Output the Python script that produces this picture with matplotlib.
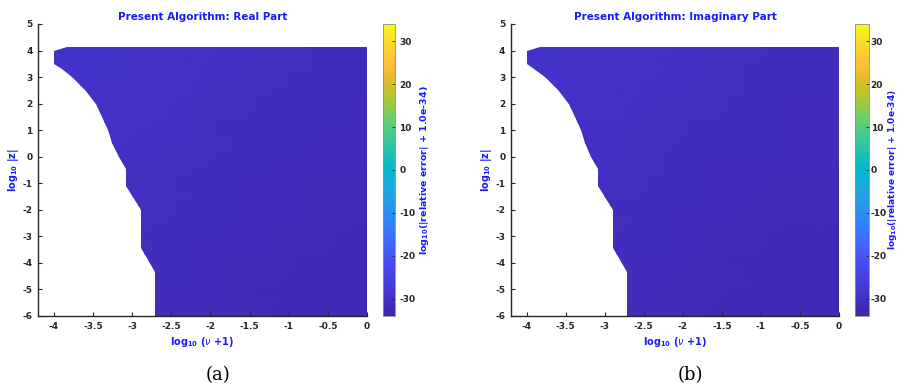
"""
Relative error maps of the present algorithm (real and imaginary parts),
drawn as two masked colour maps with MATLAB-style parula colourbars.
"""

import numpy as np
import matplotlib
matplotlib.use("Agg")
import matplotlib.pyplot as plt
from matplotlib.colors import LinearSegmentedColormap
from matplotlib.patches import Polygon

# grid nodes of the error table
x_nodes = [-4.0, -3.5, -3.0, -2.5, -2.0, -1.5, -1.0, -0.5, 0.0]
y_nodes = [-6.0, -5.0, -4.0, -3.0, -2.0, -1.0, 0.0, 1.0, 2.0, 3.0, 4.13]

# log10(|relative error| + 1e-34), rows bottom -> top
err_real = [
    [-31.3, -31.3, -31.3, -31.5, -31.7, -31.8, -31.9, -32.0, -32.0],
    [-31.2, -31.2, -31.2, -31.4, -31.6, -31.8, -31.9, -31.9, -32.0],
    [-31.0, -31.0, -31.0, -31.3, -31.5, -31.7, -31.8, -31.9, -31.9],
    [-30.9, -30.9, -30.9, -31.2, -31.4, -31.6, -31.7, -31.8, -31.9],
    [-30.8, -30.8, -30.8, -31.0, -31.3, -31.5, -31.6, -31.8, -31.8],
    [-30.6, -30.6, -30.6, -30.9, -31.2, -31.4, -31.6, -31.7, -31.7],
    [-30.4, -30.4, -30.4, -30.7, -31.0, -31.3, -31.5, -31.6, -31.6],
    [-30.2, -30.2, -30.2, -30.5, -30.9, -31.1, -31.2, -31.4, -31.5],
    [-29.9, -29.9, -29.9, -30.2, -30.6, -30.9, -31.1, -31.3, -31.4],
    [-29.6, -29.6, -29.7, -30.0, -30.4, -30.7, -31.0, -31.2, -31.3],
    [-29.3, -29.3, -29.5, -29.8, -30.2, -30.5, -30.8, -31.1, -31.2],
]
err_imag = [
    [-31.4, -31.4, -31.4, -31.6, -31.8, -31.9, -32.0, -32.0, -32.0],
    [-31.3, -31.3, -31.3, -31.5, -31.7, -31.8, -31.9, -32.0, -32.0],
    [-31.1, -31.1, -31.1, -31.4, -31.6, -31.8, -31.9, -31.9, -31.9],
    [-31.0, -31.0, -31.0, -31.3, -31.5, -31.7, -31.8, -31.9, -31.9],
    [-30.9, -30.9, -30.9, -31.1, -31.4, -31.6, -31.7, -31.8, -31.8],
    [-30.7, -30.7, -30.7, -31.0, -31.3, -31.5, -31.6, -31.7, -31.7],
    [-30.5, -30.5, -30.5, -30.8, -31.1, -31.4, -31.5, -31.6, -31.6],
    [-30.3, -30.3, -30.3, -30.6, -31.0, -31.2, -31.3, -31.5, -31.5],
    [-30.0, -30.0, -30.0, -30.3, -30.7, -31.0, -31.2, -31.4, -31.4],
    [-29.7, -29.7, -29.8, -30.1, -30.5, -30.8, -31.1, -31.3, -31.3],
    [-29.5, -29.5, -29.6, -29.9, -30.3, -30.6, -30.9, -31.1, -31.2],
]

# left edge of the region where results exist (top -> bottom)
edge_x = [-3.83, -4.0, -4.0, -3.90, -3.76, -3.60, -3.46, -3.38, -3.31, -3.25,
          -3.17, -3.08, -3.08, -2.89, -2.89, -2.71, -2.71]
edge_y = [4.13, 4.0, 3.5, 3.3, 3.0, 2.5, 2.0, 1.5, 1.0, 0.5,
          0.0, -0.45, -1.1, -2.0, -3.42, -4.34, -6.0]

titles = ["Present Algorithm: Real Part", "Present Algorithm: Imaginary Part"]
cbar_labels = [r"log$_{\mathbf{10}}$(|relative error| + 1.0e-34)",
               r"log$_{\mathbf{10}}$(|relative error| + 1.0e-34)"]
panel_tags = ["(a)", "(b)"]
x_ticks = [-4, -3.5, -3, -2.5, -2, -1.5, -1, -0.5, 0]
x_ticklabels = ["-4", "-3.5", "-3", "-2.5", "-2", "-1.5", "-1", "-0.5", "0"]
y_ticks = list(range(-6, 6))
c_ticks = [-30, -20, -10, 0, 10, 20, 30]

# parula (MATLAB) approximation
parula_pts = [
    (0.2422, 0.1504, 0.6603), (0.2578, 0.1818, 0.7511), (0.2706, 0.2147, 0.8364),
    (0.2783, 0.2559, 0.8991), (0.2813, 0.3006, 0.9414), (0.2760, 0.3667, 0.9829),
    (0.2440, 0.4358, 0.9988), (0.1834, 0.5074, 0.9798), (0.1687, 0.5703, 0.9359),
    (0.1380, 0.6276, 0.8973), (0.0952, 0.6798, 0.8598), (0.0036, 0.7203, 0.7917),
    (0.0964, 0.7500, 0.7120), (0.1938, 0.7758, 0.6251), (0.2906, 0.7973, 0.5188),
    (0.4456, 0.8024, 0.3909), (0.6174, 0.7876, 0.2612), (0.7738, 0.7598, 0.1646),
    (0.9035, 0.7330, 0.1774), (0.9956, 0.7434, 0.2371), (0.9892, 0.8136, 0.1885),
    (0.9610, 0.8890, 0.1537), (0.9769, 0.9839, 0.0805),
]
parula = LinearSegmentedColormap.from_list("parula", parula_pts, N=256)

plt.rcParams["mathtext.fontset"] = "dejavusans"
plt.rcParams["axes.unicode_minus"] = False
BLUE = "#1a1aff"
TICK_C = "#262626"

fig = plt.figure(figsize=(8.99, 3.87), dpi=100)

ax_boxes = [[0.0423, 0.1835, 0.366, 0.7545], [0.5684, 0.1835, 0.3649, 0.7545]]
cb_boxes = [[0.4260, 0.1835, 0.0137, 0.7545], [0.9511, 0.1835, 0.0150, 0.7545]]
cb_label_x = [3.4, 2.8]   # label centre, in colourbar-axes units
cb_label_size = [6.8, 6.5]
cb_tick_pad = [3, 1.5]
tag_x = [0.2425, 0.7675]

for i, err in enumerate([err_real, err_imag]):
    ax = fig.add_axes(ax_boxes[i])
    mesh = ax.pcolormesh(x_nodes, y_nodes, np.array(err), cmap=parula,
                         vmin=-34, vmax=34, shading="gouraud")
    outline = list(zip(edge_x, edge_y)) + [(0.0, -6.0), (0.0, 4.13)]
    clip = Polygon(outline, closed=True, transform=ax.transData,
                   facecolor="none", edgecolor="none")
    ax.add_patch(clip)
    mesh.set_clip_path(clip)

    ax.set_xlim(-4.2, 0)
    ax.set_ylim(-6, 5)
    ax.set_xticks(x_ticks)
    ax.set_xticklabels(x_ticklabels)
    ax.set_yticks(y_ticks)
    for side in ["top", "right"]:
        ax.spines[side].set_visible(False)
    for side in ["left", "bottom"]:
        ax.spines[side].set_color(TICK_C)
        ax.spines[side].set_linewidth(1.0)
    ax.tick_params(direction="in", length=3, width=0.8, colors=TICK_C,
                   labelsize=6.5, pad=4)
    for lab in ax.get_xticklabels() + ax.get_yticklabels():
        lab.set_fontweight("bold")

    ax.set_title(titles[i], color=BLUE, fontsize=7.5, fontweight="bold", pad=3)
    ax.set_xlabel(r"log$_{\mathbf{10}}$ ($\nu$ +1)", color=BLUE, fontsize=7,
                  fontweight="bold", labelpad=3)
    ax.set_ylabel(r"log$_{\mathbf{10}}$ |z|", color=BLUE, fontsize=7,
                  fontweight="bold", labelpad=1)

    cax = fig.add_axes(cb_boxes[i])
    cb = fig.colorbar(mesh, cax=cax, ticks=c_ticks)
    cb.outline.set_edgecolor("#8c8c8c")
    cb.outline.set_linewidth(0.6)
    cax.tick_params(direction="in", length=2.5, width=0.6, colors=TICK_C,
                    labelsize=6.5, pad=cb_tick_pad[i])
    for lab in cax.get_yticklabels():
        lab.set_fontweight("bold")
    cb.set_label(cbar_labels[i], color=BLUE, fontsize=cb_label_size[i],
                 fontweight="bold")
    cax.yaxis.label.set_verticalalignment("center")
    cax.yaxis.set_label_coords(cb_label_x[i], 0.5)

    fig.text(tag_x[i], 0.008, panel_tags[i], ha="center", va="bottom",
             fontsize=13, family="DejaVu Serif")

fig.savefig("out.png", dpi=100)
plt.close(fig)
